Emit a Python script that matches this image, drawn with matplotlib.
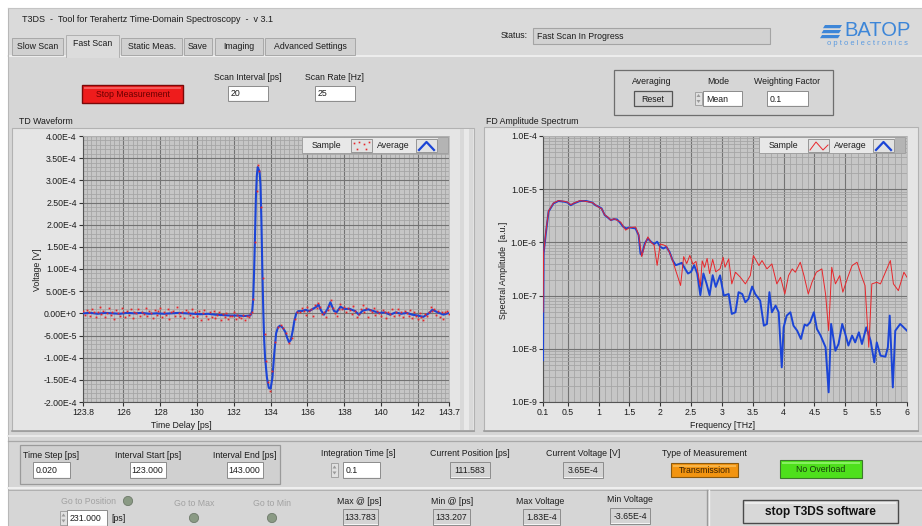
import numpy as np
import matplotlib
matplotlib.use("Agg")
import matplotlib.pyplot as plt
from matplotlib.patches import Rectangle, Circle, Polygon
from matplotlib.ticker import FixedLocator, MultipleLocator, LogLocator, NullFormatter, FixedFormatter

# ---------------- data ----------------
# TD waveform, average (time in ps, voltage in 1e-5 V)
td_avg_t = [123.8, 124.2, 124.6, 125.0, 125.4, 125.8, 126.2, 126.6, 127.0, 127.4, 127.8, 128.2, 128.6,
            129.0, 129.4, 129.8, 130.2, 130.6, 131.0, 131.4, 131.8, 132.2, 132.6, 132.9, 133.0, 133.05,
            133.1, 133.15, 133.2, 133.25, 133.3, 133.35, 133.4, 133.45, 133.5, 133.55, 133.6, 133.65,
            133.7, 133.8, 133.9, 134.0, 134.1, 134.2, 134.3, 134.4, 134.5, 134.6, 134.7, 134.8, 134.9,
            135.0, 135.1, 135.2, 135.3, 135.4, 135.5, 135.7, 135.9, 136.1, 136.3, 136.5, 136.6, 136.75,
            136.9, 137.1, 137.25, 137.45, 137.6, 137.8, 138.0, 138.3, 138.6, 138.8, 139.0, 139.3, 139.6,
            139.9, 140.2, 140.5, 140.8, 141.1, 141.4, 141.7, 142.0, 142.3, 142.6, 142.8, 143.1, 143.4, 143.7]
td_avg_v = [0.0, 0.1, -0.1, 0.1, 0.0, -0.1, 0.1, 0.0, 0.1, -0.1, 0.0, -0.1, 0.0, 0.1, 0.0, -0.1, -0.2,
            -0.1, -0.3, -0.4, -0.5, -0.5, -0.6, -0.5, 0.5, 3, 9, 17, 26, 31, 33, 32.5, 32, 29, 21, 10, 1,
            -6, -10, -14.5, -16.8, -17, -14.5, -9, -4.5, -3.2, -2.8, -3.0, -3.5, -4.2, -5.5, -6.5, -6.0,
            -4.0, -1.5, 0.0, 0.5, 0.5, 0.8, 0.5, 1.0, 1.5, 2.0, 0.6, -0.3, 1.0, 2.5, 0.5, 0.3, 1.5, 1.0,
            1.0, 0.5, -0.3, 0.6, 0.9, 0.5, 0.1, 0.2, -0.3, 0.2, -0.1, 0.1, -0.3, -0.5, -0.8, 0.0, 0.8,
            0.2, -0.3, 0.1]

# TD waveform, single sample (1e-5 V): before pulse (123.8..132.9 every 0.1 ps)
td_smp_pre = [0.5, -0.3, 0.8, 0.2, -0.6, 1.0, 0.3, -0.9, 0.4, 1.4,
              -0.2, 0.6, -0.8, 0.1, 1.1, -0.4, 0.3, -1.2, 0.7, 0.0,
              -0.6, 1.3, 0.2, -0.9, 0.5, -0.3, 0.9, -1.1, 0.4, 0.1,
              1.0, -0.5, 0.3, -0.2, 1.2, -0.7, 0.6, 0.0, -1.0, 0.8,
              -0.3, 0.5, 1.1, -0.8, 0.2, -0.4, 0.9, -1.3, 0.3, 0.6,
              -0.5, 1.4, 0.1, -0.7, 0.4, -1.0, 0.7, 0.2, -0.3, 1.0,
              -0.9, 0.3, -0.6, 0.5, -1.4, 0.0, 0.8, -0.5, -1.2, 0.2,
              -0.8, 0.6, -1.1, -0.3, 0.4, -1.6, -0.2, -0.9, 0.1, -1.3,
              -0.5, -0.7, 0.3, -1.2, -0.4, -0.8, -1.0, -0.3, -1.5, -0.6,
              -0.9, -0.2]
# pulse region
td_smp_pulse_t = [133.0, 133.06, 133.15, 133.24, 133.3, 133.36, 133.47, 133.6, 133.68, 133.74, 133.85,
                  133.96, 134.08, 134.25, 134.4, 134.55, 134.7, 134.85, 135.0, 135.15, 135.3, 135.45]
td_smp_pulse_v = [0.3, 3.2, 16.0, 27.5, 33.5, 32.0, 24.0, 8.0, -4.7, -10.7, -15.5,
                  -17.5, -13.0, -6.5, -3.0, -2.6, -3.2, -4.5, -6.8, -5.5, -1.2, 0.4]
# after pulse (135.6..143.7 every 0.1 ps)
td_smp_post = [0.3, 1.2, 0.5, -0.3, 1.4, 0.6, 1.0, -0.5, 1.8, 1.1,
               2.4, 1.5, -0.2, 0.3, -0.9, 0.8, 1.6, 2.9, 1.2, 0.1,
               -0.6, 1.0, 2.2, 0.9, 1.5, 0.4, 1.3, 0.7, -0.2, 1.6,
               0.5, -0.8, -0.2, 0.9, 1.8, 0.2, 1.1, -0.9, 0.7, 0.3,
               1.2, -0.4, 0.6, 0.0, -0.7, 0.8, 0.3, -1.0, 0.4, -0.2,
               0.9, -0.6, 0.3, 1.0, -0.3, 0.2, -0.8, 0.6, 0.0, -0.5,
               0.7, -1.1, 0.2, -0.6, -1.3, 0.1, -0.9, -1.4, -0.2, -0.7,
               0.4, 1.5, 0.6, 1.0, -0.3, 0.5, -0.8, 0.2, -1.2, 0.3,
               0.6, -0.2]

# FD amplitude spectrum
fd_avg_f = [0.1, 0.11, 0.15, 0.19, 0.27, 0.35, 0.45, 0.5, 0.55, 0.6, 0.7, 0.8, 0.9, 0.95, 1.0, 1.05, 1.1,
            1.15, 1.2, 1.25, 1.3, 1.35, 1.4, 1.45, 1.5, 1.6, 1.65, 1.68, 1.7, 1.75, 1.8, 1.85, 1.9, 1.95,
            2.0, 2.05, 2.1, 2.15, 2.2, 2.25, 2.3, 2.35, 2.4, 2.45, 2.5, 2.55, 2.6, 2.65, 2.7, 2.75, 2.8,
            2.85, 2.9, 2.97, 3.03, 3.11, 3.16, 3.22, 3.27, 3.33, 3.38, 3.43, 3.49, 3.54, 3.6, 3.62, 3.68,
            3.73, 3.77, 3.81, 3.87, 3.92, 3.97, 4.0, 4.05, 4.11, 4.16, 4.22, 4.28, 4.34, 4.38, 4.43, 4.49,
            4.54, 4.6, 4.68, 4.73, 4.77, 4.84, 4.89, 4.95, 5.0, 5.05, 5.11, 5.16, 5.22, 5.27, 5.34, 5.41,
            5.47, 5.51, 5.57, 5.65, 5.69, 5.72, 5.77, 5.81, 5.89, 6.0]
fd_avg_a = [6.1e-9, 6.2e-7, 1.6e-6, 3.8e-6, 5.4e-6, 6.0e-6, 5.8e-6, 5.6e-6, 5.0e-6, 5.4e-6, 6.0e-6,
            6.0e-6, 5.6e-6, 5.0e-6, 4.7e-6, 4.35e-6, 3.26e-6, 2.94e-6, 2.62e-6, 2.74e-6, 2.70e-6, 2.34e-6,
            1.97e-6, 1.83e-6, 1.91e-6, 1.83e-6, 1.37e-6, 6.2e-7, 5.76e-7, 9.55e-7, 1.19e-6, 1.03e-6,
            9.27e-7, 1.03e-6, 8.26e-7, 7.69e-7, 8.26e-7, 6.65e-7, 4.64e-7, 3.73e-7, 3.90e-7, 4.13e-7,
            3.23e-7, 2.60e-7, 2.80e-7, 3.73e-7, 2.60e-7, 1.02e-7, 2.60e-7, 1.69e-7, 1.02e-7, 2.42e-7,
            1.46e-7, 2.4e-7, 1.0e-7, 1.07e-7, 4.52e-8, 4.86e-8, 1.16e-7, 1.07e-7, 7.49e-8, 8.65e-8,
            1.48e-7, 1.07e-7, 8.65e-8, 8.05e-8, 2.72e-8, 2.93e-8, 1.16e-7, 4.86e-8, 6.49e-8, 4.86e-8,
            4.48e-9, 2.53e-8, 4.21e-8, 4.86e-8, 2.72e-8, 2.19e-8, 1.53e-8, 2.85e-8, 2.72e-8, 3.15e-8,
            4.86e-8, 2.36e-8, 1.77e-8, 1.07e-8, 1.52e-9, 2.93e-8, 9.2e-9, 1.23e-8, 2.93e-8, 1.90e-8,
            1.15e-8, 1.77e-8, 1.32e-8, 2.04e-8, 1.23e-8, 2.53e-8, 1.42e-8, 5.56e-9, 1.32e-8, 7.43e-9,
            7.11e-9, 1.07e-8, 4.21e-8, 1.88e-9, 2.19e-8, 2.93e-8, 2.19e-8]
fd_smp_f = [0.1, 0.11, 0.15, 0.19, 0.27, 0.35, 0.45, 0.5, 0.55, 0.6, 0.7, 0.8, 0.9, 0.95, 1.0, 1.05, 1.1,
            1.15, 1.2, 1.25, 1.3, 1.36, 1.44, 1.5, 1.6, 1.65, 1.7, 1.75, 1.8, 1.85, 1.9, 1.95, 2.0, 2.05,
            2.1, 2.15, 2.2, 2.25, 2.33, 2.38, 2.43, 2.48, 2.53, 2.58, 2.65, 2.68, 2.72, 2.76, 2.8, 2.85,
            2.9, 2.97, 3.02, 3.05, 3.11, 3.16, 3.22, 3.3, 3.38, 3.46, 3.51, 3.6, 3.65, 3.73, 3.81, 3.89,
            3.95, 4.02, 4.08, 4.14, 4.19, 4.27, 4.33, 4.4, 4.46, 4.53, 4.62, 4.68, 4.73, 4.78, 4.84, 4.91,
            4.96, 5.04, 5.11, 5.19, 5.27, 5.32, 5.38, 5.43, 5.51, 5.57, 5.65, 5.73, 5.78, 5.86, 5.95, 6.0]
fd_smp_a = [4.9e-8, 6.5e-7, 1.7e-6, 3.9e-6, 5.5e-6, 6.1e-6, 5.9e-6, 5.7e-6, 5.1e-6, 5.5e-6, 6.1e-6,
            5.9e-6, 5.6e-6, 5.1e-6, 4.6e-6, 4.3e-6, 3.3e-6, 3.0e-6, 2.6e-6, 2.8e-6, 2.6e-6, 2.4e-6,
            1.7e-6, 1.9e-6, 1.95e-6, 1.4e-6, 5.4e-7, 8.9e-7, 1.27e-6, 1.0e-6, 9.0e-7, 3.7e-7, 9.3e-7,
            9.0e-7, 8.5e-7, 6.5e-7, 4.6e-7, 3.0e-7, 1.55e-7, 5.4e-7, 4.0e-7, 5.7e-7, 3.9e-7, 4.4e-7,
            1.5e-7, 4.5e-7, 3.4e-7, 5.0e-7, 2.6e-7, 4.8e-7, 2.8e-7, 3.2e-7, 5.26e-7, 3.41e-7, 4.90e-7,
            1.66e-7, 2.75e-7, 2.21e-7, 1.66e-7, 2.38e-7, 5.66e-7, 3.67e-7, 4.56e-7, 3.18e-7, 3.94e-7,
            1.66e-7, 2.21e-7, 1.07e-7, 2.38e-7, 3.18e-7, 2.75e-7, 4.24e-7, 2.38e-7, 1.07e-7, 1.78e-7,
            2.75e-7, 3.18e-7, 1.07e-7, 2.19e-8, 3.41e-7, 1.66e-7, 2.38e-7, 1.16e-7, 2.21e-7, 3.67e-7,
            4.24e-7, 2.21e-7, 1.54e-7, 1.07e-8, 1.66e-7, 1.78e-7, 1.66e-7, 2.75e-7, 4.56e-7, 1.66e-7,
            1.24e-7, 2.75e-7, 2.21e-7]

td_xticks = [123.8, 126, 128, 130, 132, 134, 136, 138, 140, 142, 143.7]
td_xticklabels = ["123.8", "126", "128", "130", "132", "134", "136", "138", "140", "142", "143.7"]
td_yticks = [-2e-4, -1.5e-4, -1e-4, -5e-5, 0, 5e-5, 1e-4, 1.5e-4, 2e-4, 2.5e-4, 3e-4, 3.5e-4, 4e-4]
td_yticklabels = ["-2.00E-4", "-1.50E-4", "-1.00E-4", "-5.00E-5", "0.00E+0", "5.00E-5", "1.00E-4",
                  "1.50E-4", "2.00E-4", "2.50E-4", "3.00E-4", "3.50E-4", "4.00E-4"]
fd_xticks = [0.1, 0.5, 1, 1.5, 2, 2.5, 3, 3.5, 4, 4.5, 5, 5.5, 6]
fd_xticklabels = ["0.1", "0.5", "1", "1.5", "2", "2.5", "3", "3.5", "4", "4.5", "5", "5.5", "6"]
fd_yticks = [1e-9, 1e-8, 1e-7, 1e-6, 1e-5, 1e-4]
fd_yticklabels = ["1.0E-9", "1.0E-8", "1.0E-7", "1.0E-6", "1.0E-5", "1.0E-4"]

# ---------------- figure ----------------
W, H = 922, 526
plt.rcParams['font.family'] = ['Liberation Sans', 'DejaVu Sans']
FS = 6.3
TXT = '#1c1c1c'
BG = '#d6d6d6'
FRAME = '#e5e5e5'
RED = '#e8262b'
BLUE = '#1b44d6'

fig = plt.figure(figsize=(W / 100, H / 100), dpi=100)
fig.patch.set_facecolor('white')

bg = fig.add_axes([0, 0, 1, 1], zorder=0)
bg.set_xlim(0, W); bg.set_ylim(H, 0); bg.axis('off')
ov = fig.add_axes([0, 0, 1, 1], zorder=10)
ov.set_xlim(0, W); ov.set_ylim(H, 0); ov.axis('off'); ov.patch.set_alpha(0)


def rect(ax, x0, y0, x1, y1, fc, ec='none', lw=0.8, z=1):
    ax.add_patch(Rectangle((x0, y0), x1 - x0, y1 - y0, facecolor=fc, edgecolor=ec, linewidth=lw, zorder=z))


def txt(ax, x, y, s, size=FS, ha='left', color=TXT, z=5, **kw):
    ax.text(x, y, s, fontsize=size, ha=ha, va='center', color=color, zorder=z, **kw)


def field(x0, y0, x1, y1, s, align='left', fc='white'):
    rect(bg, x0, y0, x1, y1, fc, '#8c8c8c', 0.7, 3)
    rect(bg, x0 + 1, y1 - 1.2, x1, y1, '#f4f4f4', z=3)
    if align == 'left':
        txt(bg, x0 + 3, (y0 + y1) / 2 + 0.5, s)
    elif align == 'right':
        txt(bg, x1 - 3, (y0 + y1) / 2 + 0.5, s, ha='right')
    else:
        txt(bg, (x0 + x1) / 2, (y0 + y1) / 2 + 0.5, s, ha='center')


def spinner(x, y0, y1):
    rect(bg, x, y0 + 1, x + 7, y1 - 1, '#e0e0e0', '#9a9a9a', 0.6, 3)
    ym = (y0 + y1) / 2
    bg.add_patch(Polygon([[x + 1.5, ym - 1.5], [x + 5.5, ym - 1.5], [x + 3.5, ym - 4.5]], closed=True,
                         fc='#9a9a9a', ec='none', zorder=4))
    bg.add_patch(Polygon([[x + 1.5, ym + 1.5], [x + 5.5, ym + 1.5], [x + 3.5, ym + 4.5]], closed=True,
                         fc='#9a9a9a', ec='none', zorder=4))


# main panels
rect(bg, 8, 8, W, H, BG)
rect(bg, 8, 8, W, 55, '#dadada')
bg.plot([8, W], [55.5, 55.5], color='#f2f2f2', lw=1.2, zorder=2)
bg.plot([8, 8], [8, H], color='#b8b8b8', lw=0.8, zorder=2)
bg.plot([8, W], [8, 8], color='#c4c4c4', lw=0.8, zorder=2)

txt(bg, 22, 20, "T3DS  -  Tool for Terahertz Time-Domain Spectroscopy  -  v 3.1", size=6.5)

# tabs
tabs = [("Slow Scan", 12, 63), ("Fast Scan", 66, 119), ("Static Meas.", 121, 182),
        ("Save", 184, 212), ("Imaging", 215, 263), ("Advanced Settings", 265, 355)]
for name, x0, x1 in tabs:
    if name == "Fast Scan":
        rect(bg, x0, 35, x1, 57, '#dcdcdc', '#b0b0b0', 0.7, 3)
        rect(bg, x0 + 0.5, 55, x1 - 0.5, 58, '#dcdcdc', z=4)
        txt(bg, (x0 + x1) / 2, 44, name, ha='center')
    else:
        rect(bg, x0, 38, x1, 55, '#d0d0d0', '#a8a8a8', 0.7, 2)
        txt(bg, (x0 + x1) / 2, 46.5, name, ha='center')

# status
txt(bg, 528, 36, "Status:", ha='right')
rect(bg, 533, 28, 770, 44, '#d2d2d2', '#a4a4a4', 0.8, 2)
txt(bg, 537, 36.5, "Fast Scan In Progress")

# BATOP logo
for i, yy in enumerate([25, 30, 35]):
    bg.add_patch(Polygon([[822 + (2 - i) * 1.5, yy], [842 - i * 1.0, yy], [840 - i * 1.0, yy + 3.2],
                          [820 + (2 - i) * 1.5, yy + 3.2]], closed=True, fc='#3d86d8', ec='none', zorder=3))
txt(bg, 878, 30, "BATOP", size=14.5, ha='center', color='#3d86d8')
txt(bg, 867, 43.5, "o p t o e l e c t r o n i c s", size=5.4, ha='center', color='#5a9ae0')

# stop measurement button
rect(bg, 82, 85, 183, 103, '#ee1c1c', '#7a0808', 1.0, 3)
rect(bg, 84, 87, 181, 89, '#f45a5a', z=3)
txt(bg, 132.5, 94.5, "Stop Measurement", ha='center', color='#6a0000')

txt(bg, 248, 77, "Scan Interval [ps]", ha='center')
field(228, 86, 268, 101, "20")
txt(bg, 334, 77, "Scan Rate [Hz]", ha='center')
field(315, 86, 355, 101, "25")

# averaging group
rect(bg, 614, 70, 833, 115, BG, '#6e6e6e', 0.9, 2)
txt(bg, 652, 81, "Averaging", ha='center')
rect(bg, 634, 91, 672, 106, '#d2d2d2', '#555555', 0.9, 3)
txt(bg, 653, 99, "Reset", ha='center')
txt(bg, 718, 81, "Mode", ha='center')
spinner(695, 91, 106)
field(703, 91, 742, 106, "Mean")
txt(bg, 787, 81, "Weighting Factor", ha='center')
field(767, 91, 808, 106, "0.1")

# graph frames
txt(bg, 19, 121.5, "TD Waveform")
txt(bg, 486, 121.5, "FD Amplitude Spectrum")
rect(bg, 12, 128, 474, 431, FRAME, '#b2b2b2', 0.8, 1)
rect(bg, 460, 129, 473, 430, '#d9d9d9', z=1)
rect(bg, 464, 129, 469, 430, '#e9e9e9', z=1)
rect(bg, 484, 127, 918, 431, FRAME, '#b2b2b2', 0.8, 1)
bg.plot([12, 474], [431, 431], color='#9c9c9c', lw=1.2, zorder=2)
bg.plot([484, 918], [431, 431], color='#9c9c9c', lw=1.2, zorder=2)


def px_axes(x0, y0, x1, y1, z=3):
    return fig.add_axes([x0 / W, 1 - y1 / H, (x1 - x0) / W, (y1 - y0) / H], zorder=z)


def style_axes(ax):
    ax.set_facecolor('#c6c6c6')
    ax.grid(which='minor', color='#a6a6a6', lw=0.6, zorder=0)
    ax.grid(which='major', color='#737373', lw=0.8, zorder=0)
    ax.set_axisbelow(True)
    ax.tick_params(which='major', direction='out', length=3, width=0.8, color='#333333',
                   labelsize=FS, labelcolor=TXT, pad=1.5)
    ax.tick_params(which='minor', length=0)
    for s in ['top', 'right']:
        ax.spines[s].set_color('#bcbcbc'); ax.spines[s].set_linewidth(0.6)
    for s in ['left', 'bottom']:
        ax.spines[s].set_color('#555555'); ax.spines[s].set_linewidth(0.8)


# ---- TD waveform ----
ax1 = px_axes(83, 136, 449, 402)
style_axes(ax1)
ax1.set_xlim(123.8, 143.7)
ax1.set_ylim(-2e-4, 4e-4)
ax1.xaxis.set_major_locator(FixedLocator(td_xticks))
ax1.xaxis.set_major_formatter(FixedFormatter(td_xticklabels))
ax1.xaxis.set_minor_locator(MultipleLocator(0.25))
ax1.yaxis.set_major_locator(FixedLocator(td_yticks))
ax1.yaxis.set_major_formatter(FixedFormatter(td_yticklabels))
ax1.yaxis.set_minor_locator(MultipleLocator(1e-5))

ax1.plot(td_avg_t, np.array(td_avg_v) * 1e-5, color=BLUE, lw=1.5, zorder=3)
t_pre = np.round(np.arange(len(td_smp_pre)) * 0.1 + 123.8, 2)
t_post = np.round(np.arange(len(td_smp_post)) * 0.1 + 135.6, 2)
smp_t = np.concatenate([t_pre, td_smp_pulse_t, t_post])
smp_v = np.concatenate([td_smp_pre, td_smp_pulse_v, td_smp_post]) * 1e-5
ax1.plot(smp_t, smp_v, linestyle='none', marker='s', ms=1.3, mew=0, color=RED, zorder=4)

fig.text(37 / W, 1 - 270 / H, "Voltage [V]", rotation=90, ha='center', va='center', fontsize=FS, color=TXT,
         zorder=11)
fig.text(181 / W, 1 - 425 / H, "Time Delay [ps]", ha='center', va='center', fontsize=FS, color=TXT, zorder=11)

# ---- FD spectrum ----
ax2 = px_axes(543, 136, 907, 402)
style_axes(ax2)
ax2.set_yscale('log')
ax2.set_xlim(0.1, 6)
ax2.set_ylim(1e-9, 1e-4)
ax2.xaxis.set_major_locator(FixedLocator(fd_xticks))
ax2.xaxis.set_major_formatter(FixedFormatter(fd_xticklabels))
ax2.xaxis.set_minor_locator(MultipleLocator(0.1))
ax2.yaxis.set_major_locator(FixedLocator(fd_yticks))
ax2.yaxis.set_major_formatter(FixedFormatter(fd_yticklabels))
ax2.yaxis.set_minor_locator(LogLocator(base=10, subs=np.arange(2, 10)))
ax2.yaxis.set_minor_formatter(NullFormatter())

ax2.plot(fd_avg_f, fd_avg_a, color=BLUE, lw=1.4, zorder=3)
ax2.plot(fd_smp_f, fd_smp_a, color=RED, lw=0.7, zorder=4)

fig.text(503 / W, 1 - 270 / H, "Spectral Amplitude  [a.u.]", rotation=90, ha='center', va='center',
         fontsize=FS, color=TXT, zorder=11)
fig.text(723 / W, 1 - 425 / H, "Frequency [THz]", ha='center', va='center', fontsize=FS, color=TXT, zorder=11)


# ---- legends (overlay) ----
def legend(x0, kind):
    y0, y1 = 137, 153
    rect(ov, x0, y0, x0 + 146, y1, '#e8e8e8', '#a0a0a0', 0.7, 2)
    rect(ov, x0 + 136, y0 + 0.5, x0 + 146, y1 - 0.5, '#b4b4b4', z=2)
    txt(ov, x0 + 10, 145.5, "Sample")
    rect(ov, x0 + 49, 139, x0 + 70, 151.5, '#e2e2e2', '#8a8a8a', 0.6, 3)
    txt(ov, x0 + 75, 145.5, "Average")
    rect(ov, x0 + 114, 139, x0 + 135, 151.5, '#e2e2e2', '#8a8a8a', 0.6, 3)
    if kind == 'dots':
        ov.plot([x0 + 52, x0 + 57, x0 + 62, x0 + 67, x0 + 55, x0 + 64],
                [143, 141.5, 144, 142, 149, 148.5], linestyle='none', marker='s', ms=1.2, mew=0,
                color=RED, zorder=4)
    else:
        ov.plot([x0 + 51, x0 + 57, x0 + 64, x0 + 69], [150, 142, 150, 145], color=RED, lw=0.7, zorder=4)
    ov.plot([x0 + 117, x0 + 124.5, x0 + 132], [150, 142, 150], color=BLUE, lw=1.6, zorder=4)


legend(302, 'dots')
legend(759, 'line')

# ---------------- bottom panel ----------------
rect(bg, 8, 433, W, 443, BG)
bg.plot([8, W], [436, 436], color='#ededed', lw=1.2, zorder=2)
bg.plot([8, W], [441, 441], color='#a8a8a8', lw=0.9, zorder=2)
rect(bg, 20, 445, 280, 484, '#d0d0d0', '#9a9a9a', 0.9, 2)
bg.plot([8, W], [488, 488], color='#f0f0f0', lw=1.4, zorder=2)
bg.plot([8, W], [489.5, 489.5], color='#b0b0b0', lw=0.7, zorder=2)

txt(bg, 23, 455, "Time Step [ps]")
field(33, 462, 70, 478, "0.020")
txt(bg, 148, 455, "Interval Start [ps]", ha='center')
field(130, 462, 166, 478, "123.000", align='right')
txt(bg, 245, 455, "Interval End [ps]", ha='center')
field(227, 462, 263, 478, "143.000", align='right')
txt(bg, 358, 453, "Integration Time [s]", ha='center')
spinner(331, 462, 478)
field(343, 462, 380, 478, "0.1")
txt(bg, 470, 454, "Current Position [ps]", ha='center')
field(450, 462, 490, 478, "111.583", align='center', fc='#d4d4d4')
txt(bg, 583, 454, "Current Voltage [V]", ha='center')
field(563, 462, 603, 478, "3.65E-4", align='center', fc='#d4d4d4')
txt(bg, 704, 454, "Type of Measurement", ha='center')
rect(bg, 671, 463, 738, 477, '#f29410', '#8a5a10', 0.8, 3)
rect(bg, 673, 464.5, 736, 467, '#f7b448', z=3)
txt(bg, 704.5, 470.5, "Transmission", ha='center', color='#3a2000')
rect(bg, 780, 460, 862, 478, '#4ee01c', '#3c7a2c', 0.8, 3)
rect(bg, 782, 461.5, 860, 464, '#86f060', z=3)
txt(bg, 821, 469.5, "No Overload", ha='center', color='#163a0c')

GRAY = '#a2a2a2'
txt(bg, 88, 501, "Go to Position", ha='center', color=GRAY)
bg.add_patch(Circle((128, 501), 4.6, fc='#8a9a84', ec='#6e7a6a', lw=0.6, zorder=3))
spinner(60, 510, 526)
field(67, 510, 107, 526, "231.000")
txt(bg, 111, 518.5, "[ps]")
txt(bg, 194, 503, "Go to Max", ha='center', color=GRAY)
bg.add_patch(Circle((194, 518), 4.6, fc='#8a9a84', ec='#6e7a6a', lw=0.6, zorder=3))
txt(bg, 272, 503, "Go to Min", ha='center', color=GRAY)
bg.add_patch(Circle((272, 518), 4.6, fc='#8a9a84', ec='#6e7a6a', lw=0.6, zorder=3))

txt(bg, 359, 501, "Max @ [ps]", ha='center')
field(343, 509, 378, 525, "133.783", align='center', fc='#d4d4d4')
txt(bg, 452, 501, "Min @ [ps]", ha='center')
field(433, 509, 470, 525, "133.207", align='center', fc='#d4d4d4')
txt(bg, 540, 501, "Max Voltage", ha='center')
field(523, 509, 560, 525, "1.83E-4", align='center', fc='#d4d4d4')
txt(bg, 630, 500, "Min Voltage", ha='center')
field(610, 508, 650, 524, "-3.65E-4", align='center', fc='#d4d4d4')

bg.plot([707, 707], [490, H], color='#9a9a9a', lw=1.0, zorder=2)
bg.plot([708.5, 708.5], [490, H], color='#f0f0f0', lw=1.0, zorder=2)
rect(bg, 743, 500, 898, 523, '#d8d8d8', '#4a4a4a', 1.0, 3)
rect(bg, 745, 501.5, 896, 504, '#ececec', z=3)
txt(bg, 820.5, 512, "stop T3DS software", size=8.6, ha='center', color='#111111', weight='bold')

fig.savefig("out.png", dpi=100, facecolor=fig.get_facecolor())
